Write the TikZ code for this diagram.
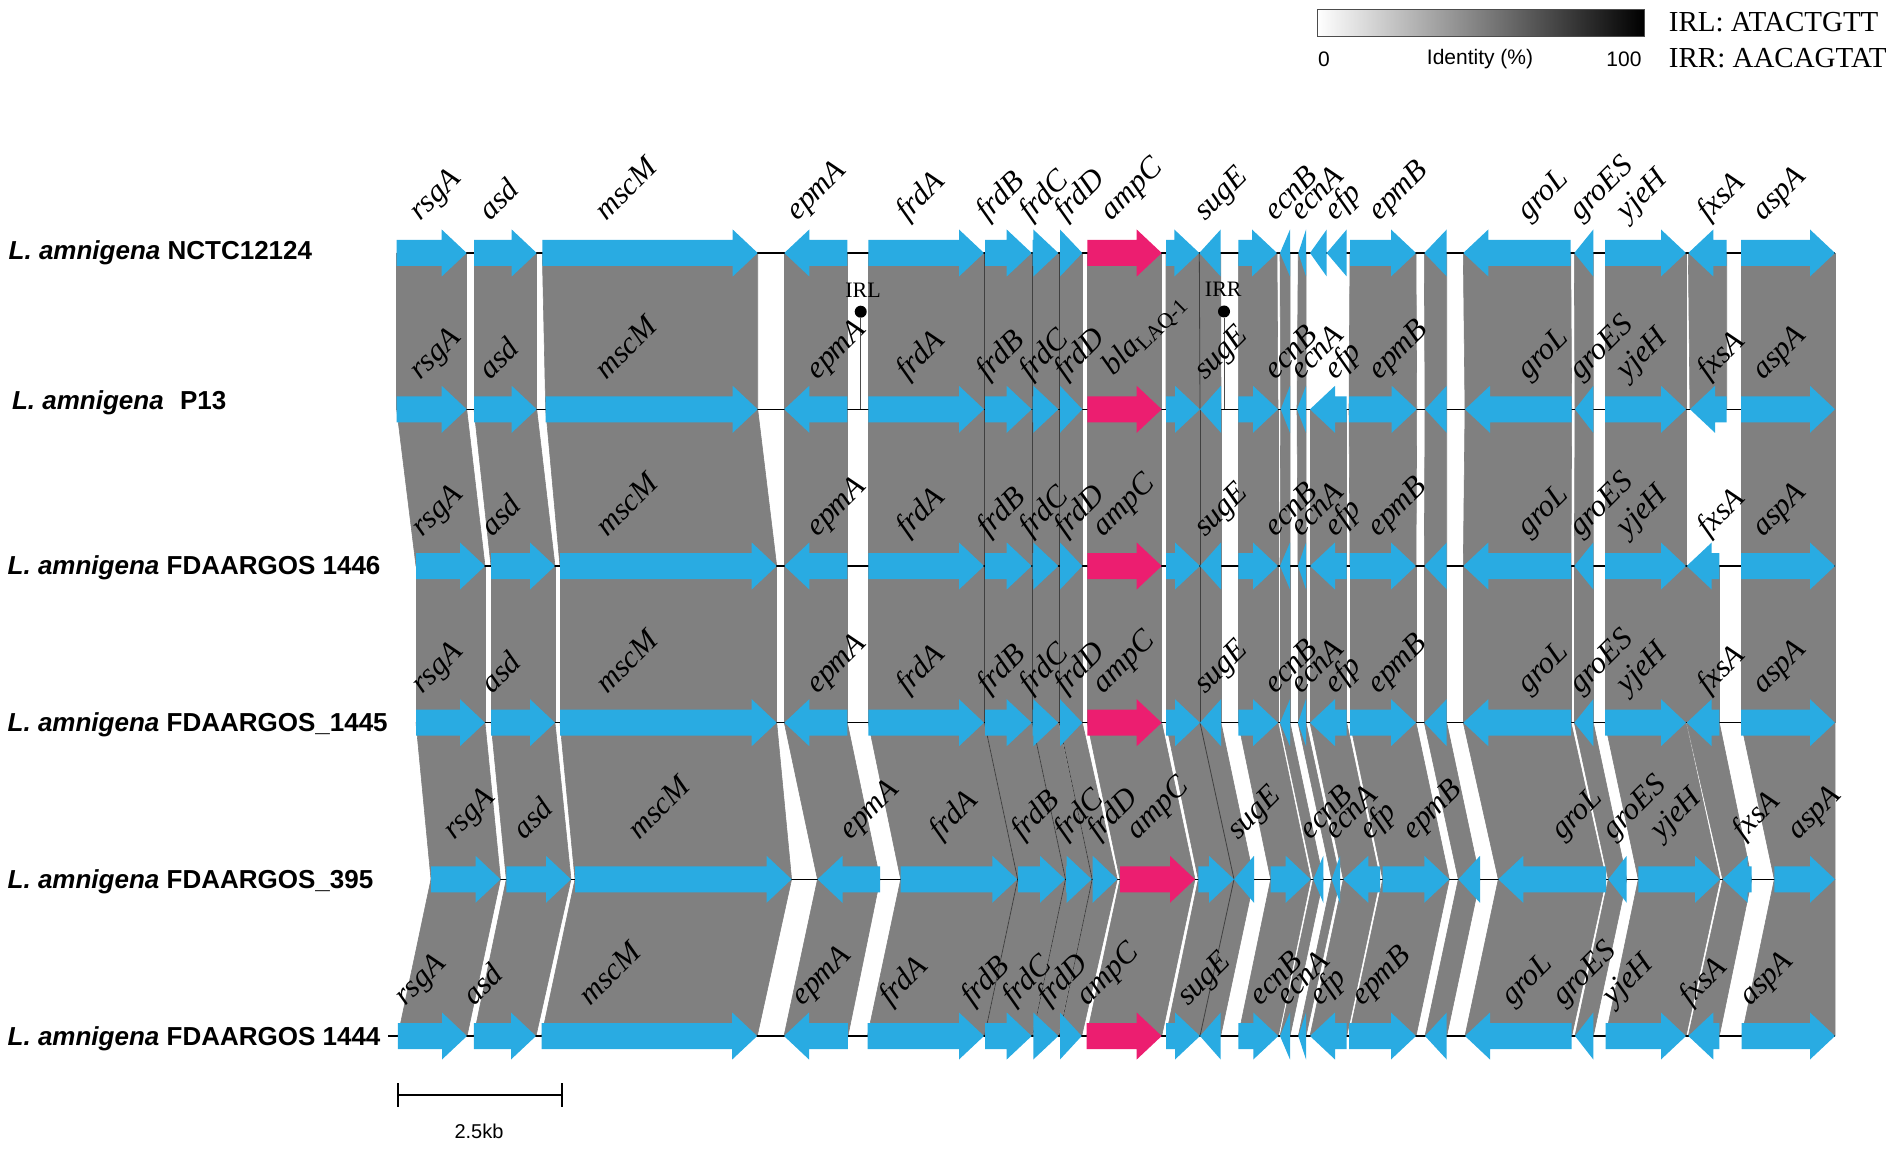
\documentclass[tikz,border=0pt]{standalone}
\usepackage{fontspec}
\setmainfont{Liberation Serif}
\newfontfamily\sansf{Liberation Sans}
\definecolor{geneblue}{RGB}{41,171,226}
\definecolor{genepink}{RGB}{236,30,112}
\definecolor{linkgray}{RGB}{128,128,128}
\newcommand{\GeneArrow}[5]{%
  \pgfmathsetmacro{\gaS}{#1}\pgfmathsetmacro{\gaE}{#2}\pgfmathsetmacro{\gaY}{#3}%
  \pgfmathsetmacro{\gaH}{min(25,\gaE-\gaS)}%
  \ifnum#4=1
    \pgfmathsetmacro{\gaB}{\gaE-\gaH}%
    \fill[#5] (\gaS,\gaY-13) -- (\gaB,\gaY-13) -- (\gaB,\gaY-23.5) -- (\gaE,\gaY) -- (\gaB,\gaY+23.5) -- (\gaB,\gaY+13) -- (\gaS,\gaY+13) -- cycle;
  \else
    \pgfmathsetmacro{\gaB}{\gaS+\gaH}%
    \fill[#5] (\gaE,\gaY-13) -- (\gaB,\gaY-13) -- (\gaB,\gaY-23.5) -- (\gaS,\gaY) -- (\gaB,\gaY+23.5) -- (\gaB,\gaY+13) -- (\gaE,\gaY+13) -- cycle;
  \fi}
\newcommand{\LinkBand}[6]{%
  \fill[linkgray, draw=linkgray, line width=0.3pt] (#1,#5) -- (#2,#5) -- (#4,#6) -- (#3,#6) -- cycle;}
\tikzset{
  genelab/.style={rotate=45, anchor=base west, inner sep=0pt, font=\fontsize{15.5}{15.5}\selectfont\itshape},
  strainlab/.style={anchor=base west, inner sep=0pt, font=\sansf\bfseries\fontsize{13}{13}\selectfont},
  rowline/.style={line width=0.7pt, black},
  darkline/.style={line width=0.4pt, black!75},
  irdot/.style={circle, fill=black, inner sep=0pt, minimum size=6pt},
  irstem/.style={line width=0.45pt, black!70},
  irlab/.style={inner sep=0pt, font=\fontsize{11}{11}\selectfont},
  leglab/.style={inner sep=0pt, font=\sansf\fontsize{10.5}{10.5}\selectfont},
  seqlab/.style={anchor=base west, inner sep=0pt, font=\fontsize{14.5}{14.5}\selectfont}
}
\def\rowone{396.7/466.7/1/geneblue, 474/536.7/1/geneblue, 542.3/757.7/1/geneblue, 784.3/847.3/-1/geneblue, 868.3/984/1/geneblue, 985/1031.7/1/geneblue, 1032.7/1058.3/1/geneblue, 1060/1082.3/1/geneblue, 1087.3/1161.7/1/genepink, 1166/1199.3/1/geneblue, 1199.3/1220.7/-1/geneblue, 1238.3/1277/1/geneblue, 1280/1290/-1/geneblue, 1298.3/1306/-1/geneblue, 1310/1326.7/-1/geneblue, 1326.7/1346.7/-1/geneblue, 1350/1416/1/geneblue, 1424.3/1446.7/-1/geneblue, 1463.3/1570.7/-1/geneblue, 1574.3/1593.3/-1/geneblue, 1605/1686/1/geneblue, 1688.3/1726.7/-1/geneblue, 1741/1835/1/geneblue}
\def\rowtwo{396.7/466.7/1/geneblue, 474/536.7/1/geneblue, 545.7/757.7/1/geneblue, 784.3/847.3/-1/geneblue, 868.3/984/1/geneblue, 985/1031.7/1/geneblue, 1032.7/1058.3/1/geneblue, 1060/1082.3/1/geneblue, 1087.3/1161.7/1/genepink, 1166/1200/1/geneblue, 1200/1221/-1/geneblue, 1238.3/1278/1/geneblue, 1280.7/1290/-1/geneblue, 1297/1306/-1/geneblue, 1310/1346.7/-1/geneblue, 1349/1416.7/1/geneblue, 1425/1446.7/-1/geneblue, 1465/1571.7/-1/geneblue, 1575/1593.3/-1/geneblue, 1605/1686/1/geneblue, 1690/1726.7/-1/geneblue, 1741/1835/1/geneblue}
\def\rowthree{416/485/1/geneblue, 491/555/1/geneblue, 560/776.7/1/geneblue, 784.3/847.3/-1/geneblue, 868.3/984/1/geneblue, 985/1031.7/1/geneblue, 1032.7/1058.3/1/geneblue, 1060/1082.3/1/geneblue, 1087.3/1161.7/1/genepink, 1166/1200/1/geneblue, 1200/1221/-1/geneblue, 1238.3/1278/1/geneblue, 1280/1290/-1/geneblue, 1298/1306/-1/geneblue, 1310/1346.7/-1/geneblue, 1350/1416/1/geneblue, 1424.3/1446.7/-1/geneblue, 1463.3/1571/-1/geneblue, 1574.3/1593.3/-1/geneblue, 1605/1686/1/geneblue, 1686.7/1719.3/-1/geneblue, 1741/1835/1/geneblue}
\def\rowfive{431/500.5/1/geneblue, 506.3/571/1/geneblue, 575/791.6/1/geneblue, 817.5/880/-1/geneblue, 900.7/1017.3/1/geneblue, 1018/1065/1/geneblue, 1066/1091.7/1/geneblue, 1092.7/1117.3/1/geneblue, 1120/1195/1/genepink, 1198.3/1234/1/geneblue, 1234/1254/-1/geneblue, 1270.7/1310.7/1/geneblue, 1313.3/1323.3/-1/geneblue, 1331.7/1340/-1/geneblue, 1343.3/1380/-1/geneblue, 1382.7/1449.3/1/geneblue, 1458.3/1480/-1/geneblue, 1498.3/1606/-1/geneblue, 1608.3/1626.7/-1/geneblue, 1638.3/1720/1/geneblue, 1722.7/1751.7/-1/geneblue, 1774.3/1835/1/geneblue}
\def\rowsix{397.9/467/1/geneblue, 473.75/536/1/geneblue, 541.6/757.2/1/geneblue, 784/847.9/-1/geneblue, 867.5/984/1/geneblue, 985/1031.7/1/geneblue, 1033.3/1058.3/1/geneblue, 1060/1081.7/1/geneblue, 1086.7/1161.7/1/genepink, 1166/1200/1/geneblue, 1200/1220.7/-1/geneblue, 1238.3/1278.3/1/geneblue, 1280/1290/-1/geneblue, 1298.3/1306/-1/geneblue, 1310/1346.7/-1/geneblue, 1349/1416/1/geneblue, 1425/1446.7/-1/geneblue, 1465/1571.7/-1/geneblue, 1575/1593.3/-1/geneblue, 1605.7/1686/1/geneblue, 1688.3/1719.3/-1/geneblue, 1741.7/1835/1/geneblue}
\def\labone{rsgA/420, asd/490, mscM/606, epmA/797, frdA/907, frdB/987, frdC/1030, frdD/1065, ampC/1111, sugE/1205, ecnB/1275, ecnA/1301, efp/1335, epmB/1379, groL/1528, groES/1580, yjeH/1627, fxsA/1708, aspA/1763}
\def\labtwo{rsgA/420, asd/490, mscM/606, epmA/817, frdA/907, frdB/987, frdC/1030, frdD/1065, sugE/1205, ecnB/1275, ecnA/1301, efp/1335, epmB/1379, groL/1528, groES/1580, yjeH/1627, fxsA/1708, aspA/1763}
\def\labthree{rsgA/422, asd/492, mscM/607, epmA/817, frdA/907, frdB/988, frdC/1030, frdD/1065, ampC/1103, sugE/1205, ecnB/1275, ecnA/1301, efp/1335, epmB/1378, groL/1528, groES/1580, yjeH/1627, fxsA/1708, aspA/1763}
\def\labfive{rsgA/454, asd/524, mscM/639, epmA/850, frdA/940, frdB/1022, frdC/1065, frdD/1098, ampC/1137, sugE/1238, ecnB/1310, ecnA/1335, efp/1370, epmB/1413, groL/1562, groES/1613, yjeH/1661, fxsA/1743, aspA/1798}
\def\labsix{rsgA/405, asd/474, mscM/590, epmA/802, frdA/890, frdB/972, frdC/1013, frdD/1048, ampC/1087, sugE/1188, ecnB/1260, ecnA/1287, efp/1320, epmB/1362, groL/1512, groES/1563, yjeH/1613, fxsA/1690, aspA/1750}
\begin{document}
\begin{tikzpicture}[x=0.5pt, y=-0.5pt]
\useasboundingbox (0,0) rectangle (1902,1150);
% ---- homology links
\foreach \a/\b/\c/\d in {396.7/466.7/396.7/466.7, 474/536.7/474/536.7, 542.3/757.7/545.7/757.7, 784.3/847.3/784.3/847.3, 868.3/984/868.3/984, 985/1031.7/985/1031.7, 1032.7/1058.3/1032.7/1058.3, 1060/1082.3/1060/1082.3, 1087.3/1161.7/1087.3/1161.7, 1166/1199.3/1166/1200, 1199.3/1220.7/1200/1221, 1238.3/1277/1238.3/1278, 1280/1290/1280.7/1290, 1298.3/1306/1297/1306, 1350/1416/1349/1416.7, 1424.3/1446.7/1425/1446.7, 1463.3/1570.7/1465/1571.7, 1574.3/1593.3/1575/1593.3, 1605/1686/1605/1686, 1688.3/1726.7/1690/1726.7, 1741/1835/1741/1835}
  {\LinkBand{\a}{\b}{\c}{\d}{253}{409.3}}
\foreach \a/\b/\c/\d in {396.7/466.7/416/485, 474/536.7/491/555, 545.7/757.7/560/776.7, 784.3/847.3/784.3/847.3, 868.3/984/868.3/984, 985/1031.7/985/1031.7, 1032.7/1058.3/1032.7/1058.3, 1060/1082.3/1060/1082.3, 1087.3/1161.7/1087.3/1161.7, 1166/1200/1166/1200, 1200/1221/1200/1221, 1238.3/1278/1238.3/1278, 1280.7/1290/1280/1290, 1297/1306/1298/1306, 1310/1346.7/1310/1346.7, 1349/1416.7/1350/1416, 1425/1446.7/1424.3/1446.7, 1465/1571.7/1463.3/1571, 1575/1593.3/1574.3/1593.3, 1605/1686/1605/1686, 1741/1835/1741/1835}
  {\LinkBand{\a}{\b}{\c}{\d}{409.3}{566}}
\foreach \s/\e/\d/\c in \rowthree
  {\LinkBand{\s}{\e}{\s}{\e}{566}{722.7}}
\foreach \a/\b/\c/\d in {416/485/431/500.5, 491/555/506.3/571, 560/776.7/575/791.6, 784.3/847.3/817.5/880, 868.3/984/900.7/1017.3, 985/1031.7/1018/1065, 1032.7/1058.3/1066/1091.7, 1060/1082.3/1092.7/1117.3, 1087.3/1161.7/1120/1195, 1166/1200/1198.3/1234, 1200/1221/1234/1254, 1238.3/1278/1270.7/1310.7, 1280/1290/1313.3/1323.3, 1298/1306/1331.7/1340, 1310/1346.7/1343.3/1380, 1350/1416/1382.7/1449.3, 1424.3/1446.7/1458.3/1480, 1463.3/1571/1498.3/1606, 1574.3/1593.3/1608.3/1626.7, 1605/1686/1638.3/1720, 1686.7/1719.3/1722.7/1751.7, 1741/1835/1774.3/1835}
  {\LinkBand{\a}{\b}{\c}{\d}{722.7}{879.3}}
\foreach \a/\b/\c/\d in {431/500.5/397.9/467, 506.3/571/473.75/536, 575/791.6/541.6/757.2, 817.5/880/784/847.9, 900.7/1017.3/867.5/984, 1018/1065/985/1031.7, 1066/1091.7/1033.3/1058.3, 1092.7/1117.3/1060/1081.7, 1120/1195/1086.7/1161.7, 1198.3/1234/1166/1200, 1234/1254/1200/1220.7, 1270.7/1310.7/1238.3/1278.3, 1313.3/1323.3/1280/1290, 1331.7/1340/1298.3/1306, 1343.3/1380/1310/1346.7, 1382.7/1449.3/1349/1416, 1458.3/1480/1425/1446.7, 1498.3/1606/1465/1571.7, 1608.3/1626.7/1575/1593.3, 1638.3/1720/1605.7/1686, 1722.7/1751.7/1688.3/1719.3, 1774.3/1835/1741.7/1835}
  {\LinkBand{\a}{\b}{\c}{\d}{879.3}{1036}}
% ---- dark seams between abutting genes
\foreach \p/\q in {984.5/984.5, 1032.2/1032.2, 1059.2/1059.2, 1199.3/1200} {\draw[darkline] (\p,253) -- (\q,409.3);}
\foreach \p/\q in {984.5/984.5, 1032.2/1032.2, 1059.2/1059.2, 1200/1200} {\draw[darkline] (\p,409.3) -- (\q,566);}
\foreach \p/\q in {984.5/984.5, 1032.2/1032.2, 1059.2/1059.2, 1200/1200} {\draw[darkline] (\p,566) -- (\q,722.7);}
\foreach \p/\q in {984.5/1017.7, 1032.2/1065.5, 1059.2/1092.2, 1200/1234} {\draw[darkline] (\p,722.7) -- (\q,879.3);}
\foreach \p/\q in {1017.7/984.5, 1065.5/1032.5, 1092.2/1059.2, 1234/1200} {\draw[darkline] (\p,879.3) -- (\q,1036);}
% ---- backbone lines
\draw[rowline] (396.7,253) -- (1835,253);
\draw[rowline] (396.7,409.3) -- (1835,409.3);
\draw[rowline] (416,566) -- (1835,566);
\draw[rowline] (416,722.7) -- (1835,722.7);
\draw[rowline] (431,879.3) -- (1835,879.3);
\draw[rowline] (388,1036) -- (1835,1036);
% ---- genes
\foreach \s/\e/\d/\c in \rowone {\GeneArrow{\s}{\e}{253}{\d}{\c}}
\foreach \s/\e/\d/\c in \rowtwo {\GeneArrow{\s}{\e}{409.3}{\d}{\c}}
\foreach \s/\e/\d/\c in \rowthree {\GeneArrow{\s}{\e}{566}{\d}{\c}}
\foreach \s/\e/\d/\c in \rowthree {\GeneArrow{\s}{\e}{722.7}{\d}{\c}}
\foreach \s/\e/\d/\c in \rowfive {\GeneArrow{\s}{\e}{879.3}{\d}{\c}}
\foreach \s/\e/\d/\c in \rowsix {\GeneArrow{\s}{\e}{1036}{\d}{\c}}
% ---- inverted repeats
\node[irdot] (irldot) at (860.7,311.7) {};
\coordinate (irlfoot) at (860.7,409.3);
\draw[irstem] (irldot) -- (irlfoot);
\node[irlab] (irltext) at (863,290) {IRL};
\node[irdot] (irrdot) at (1224,311.5) {};
\coordinate (irrfoot) at (1224,409.3);
\draw[irstem] (irrdot) -- (irrfoot);
\node[irlab] (irrtext) at (1223.3,289.3) {IRR};
% ---- gene labels
\foreach \t/\x in \labone {\node[genelab] (la-\t) at (\x,222) {\t};}
\foreach \t/\x in \labtwo {\node[genelab] (lb-\t) at (\x,381) {\t};}
\node[genelab] (lb-bla) at (1113,377) {bla\textsubscript{\upshape LAQ-1}};
\foreach \t/\x in \labthree {\node[genelab] (lc-\t) at (\x,538) {\t};}
\foreach \t/\x in \labthree {\node[genelab] (ld-\t) at (\x,695) {\t};}
\foreach \t/\x in \labfive {\node[genelab] (le-\t) at (\x,841) {\t};}
\foreach \t/\x in \labsix {\node[genelab] (lf-\t) at (\x,1007) {\t};}
% ---- strain labels
\node[strainlab] (s1) at (8.3,259.3) {\itshape L. amnigena\upshape{} NCTC12124};
\node[strainlab] (s2) at (11.7,409) {\itshape L. amnigena\upshape{}\hspace{0.35em} P13};
\node[strainlab] (s3) at (7.3,574.7) {\itshape L. amnigena\upshape{} FDAARGOS 1446};
\node[strainlab] (s4) at (7.3,731.8) {\itshape L. amnigena\upshape{} FDAARGOS\_1445};
\node[strainlab] (s5) at (7.3,888) {\itshape L. amnigena\upshape{} FDAARGOS\_395};
\node[strainlab] (s6) at (7.3,1045) {\itshape L. amnigena\upshape{} FDAARGOS 1444};
% ---- legend
\shade[left color=white, right color=black] (1317,10) rectangle (1644,37);
\draw[black!70, line width=0.5pt] (1317,10) rectangle (1644,37);
\node[leglab] (leg0) at (1324,59) {0};
\node[leglab] (legid) at (1480,59) {Identity (\%)};
\node[leglab] (leg100) at (1624,59) {100};
\node[seqlab] (irlseq) at (1668.5,32) {IRL: ATACTGTT};
\node[seqlab] (irrseq) at (1668.5,68) {IRR: AACAGTAT};
% ---- scale bar
\coordinate (sbl) at (397.9,1095);
\coordinate (sbr) at (561.7,1095);
\draw[line width=1pt] (sbl) -- (sbr);
\draw[line width=1pt] (397.9,1083.3) -- (397.9,1107.3);
\draw[line width=1pt] (561.7,1083.3) -- (561.7,1107.3);
\node[leglab, font=\sansf\fontsize{10}{10}\selectfont] (sbtext) at (479,1131.7) {2.5kb};
\end{tikzpicture}
\end{document}
